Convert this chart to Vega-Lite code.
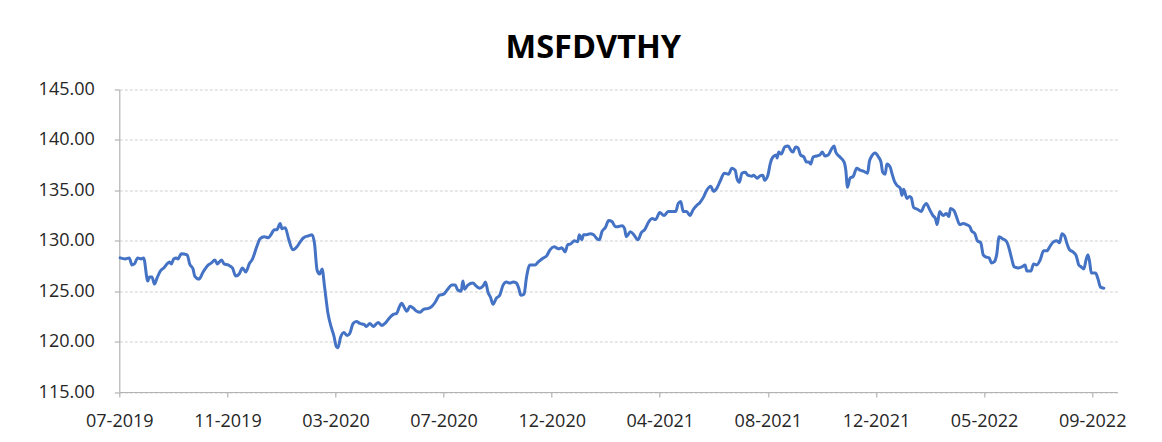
{
  "$schema": "https://vega.github.io/schema/vega-lite/v6.json",
  "width": 998,
  "height": 302.5,
  "autosize": {"type": "none"},
  "padding": {"left": 119.3, "top": 89.5, "right": 44.7, "bottom": 50},
  "background": "white",
  "title": {
    "text": "MSFDVTHY",
    "font": "Open Sans",
    "fontSize": 32.5,
    "fontWeight": "bold",
    "color": "#000000",
    "anchor": "middle",
    "baseline": "alphabetic",
    "offset": 29,
    "dx": -25,
    "dy": 39
  },
  "config": {
    "view": {"stroke": null},
    "axis": {
      "labelFont": "Open Sans",
      "labelFontSize": 18,
      "labelColor": "#262626",
      "domainColor": "#b3b3b3",
      "tickColor": "#b3b3b3",
      "domainWidth": 1.2,
      "tickWidth": 1.2,
      "tickSize": 5,
      "title": null
    }
  },
  "data": {
    "values": [
      {"date":"2019-07-08","value":128.3},{"date":"2019-07-14","value":128.2},{"date":"2019-07-19","value":128.3},{"date":"2019-07-22","value":127.6},{"date":"2019-07-25","value":127.7},{"date":"2019-07-29","value":128.3},{"date":"2019-08-02","value":128.2},{"date":"2019-08-05","value":128.3},{"date":"2019-08-10","value":126.0},{"date":"2019-08-12","value":126.4},{"date":"2019-08-15","value":126.4},{"date":"2019-08-18","value":125.7},{"date":"2019-08-21","value":126.3},{"date":"2019-08-25","value":127.0},{"date":"2019-08-29","value":127.3},{"date":"2019-09-02","value":127.7},{"date":"2019-09-05","value":127.9},{"date":"2019-09-07","value":127.7},{"date":"2019-09-10","value":128.2},{"date":"2019-09-13","value":128.3},{"date":"2019-09-15","value":128.2},{"date":"2019-09-19","value":128.7},{"date":"2019-09-26","value":128.6},{"date":"2019-09-29","value":127.7},{"date":"2019-10-03","value":127.2},{"date":"2019-10-05","value":126.5},{"date":"2019-10-10","value":126.2},{"date":"2019-10-15","value":126.9},{"date":"2019-10-20","value":127.5},{"date":"2019-10-25","value":127.8},{"date":"2019-10-29","value":128.1},{"date":"2019-11-01","value":127.7},{"date":"2019-11-06","value":128.1},{"date":"2019-11-09","value":127.7},{"date":"2019-11-14","value":127.6},{"date":"2019-11-19","value":127.3},{"date":"2019-11-23","value":126.5},{"date":"2019-11-27","value":126.7},{"date":"2019-12-01","value":127.3},{"date":"2019-12-05","value":126.9},{"date":"2019-12-09","value":127.7},{"date":"2019-12-13","value":128.2},{"date":"2019-12-18","value":129.4},{"date":"2019-12-22","value":130.2},{"date":"2019-12-27","value":130.4},
      {"date":"2020-01-01","value":130.3},{"date":"2020-01-04","value":130.6},{"date":"2020-01-08","value":131.1},{"date":"2020-01-11","value":131.1},{"date":"2020-01-15","value":131.7},{"date":"2020-01-17","value":131.2},{"date":"2020-01-21","value":131.3},{"date":"2020-01-25","value":130.2},{"date":"2020-01-30","value":129.1},{"date":"2020-02-04","value":129.4},{"date":"2020-02-08","value":129.9},{"date":"2020-02-12","value":130.3},{"date":"2020-02-18","value":130.5},{"date":"2020-02-22","value":130.6},{"date":"2020-02-25","value":129.7},{"date":"2020-02-28","value":127.1},{"date":"2020-03-02","value":126.7},{"date":"2020-03-05","value":127.2},{"date":"2020-03-08","value":125.4},{"date":"2020-03-12","value":122.8},{"date":"2020-03-16","value":121.4},{"date":"2020-03-19","value":120.6},{"date":"2020-03-22","value":119.5},{"date":"2020-03-24","value":119.4},{"date":"2020-03-27","value":120.4},{"date":"2020-03-31","value":120.9},{"date":"2020-04-04","value":120.6},{"date":"2020-04-07","value":120.8},{"date":"2020-04-11","value":121.8},{"date":"2020-04-15","value":122.0},{"date":"2020-04-19","value":121.8},{"date":"2020-04-24","value":121.7},{"date":"2020-04-27","value":121.5},{"date":"2020-05-01","value":121.8},{"date":"2020-05-05","value":121.5},{"date":"2020-05-11","value":121.9},{"date":"2020-05-15","value":121.6},{"date":"2020-05-19","value":121.8},{"date":"2020-05-24","value":122.3},{"date":"2020-05-29","value":122.7},{"date":"2020-06-02","value":122.8},{"date":"2020-06-05","value":123.4},{"date":"2020-06-08","value":123.8},{"date":"2020-06-11","value":123.4},{"date":"2020-06-14","value":123.0},{"date":"2020-06-18","value":123.5},{"date":"2020-06-22","value":123.3},{"date":"2020-06-26","value":123.0},{"date":"2020-06-30","value":122.9},{"date":"2020-07-04","value":123.2},{"date":"2020-07-10","value":123.3},{"date":"2020-07-14","value":123.5},{"date":"2020-07-18","value":123.9},{"date":"2020-07-23","value":124.6},{"date":"2020-07-28","value":124.7},{"date":"2020-08-01","value":125.1},{"date":"2020-08-07","value":125.6},{"date":"2020-08-11","value":125.6},{"date":"2020-08-14","value":125.1},{"date":"2020-08-18","value":125.0},{"date":"2020-08-20","value":126.0},{"date":"2020-08-22","value":125.2},{"date":"2020-08-26","value":125.6},{"date":"2020-09-01","value":125.8},{"date":"2020-09-05","value":125.5},{"date":"2020-09-09","value":125.3},{"date":"2020-09-13","value":125.5},{"date":"2020-09-16","value":125.9},{"date":"2020-09-19","value":124.9},{"date":"2020-09-22","value":124.4},{"date":"2020-09-25","value":123.7},{"date":"2020-09-29","value":124.3},{"date":"2020-10-03","value":124.6},{"date":"2020-10-07","value":125.6},{"date":"2020-10-11","value":125.9},{"date":"2020-10-15","value":125.8},{"date":"2020-10-19","value":125.9},{"date":"2020-10-23","value":125.8},{"date":"2020-10-26","value":125.2},{"date":"2020-10-28","value":124.6},{"date":"2020-11-01","value":124.7},{"date":"2020-11-04","value":126.4},{"date":"2020-11-08","value":127.6},{"date":"2020-11-14","value":127.6},{"date":"2020-11-18","value":127.9},{"date":"2020-11-24","value":128.3},{"date":"2020-11-28","value":128.5},{"date":"2020-12-02","value":129.1},{"date":"2020-12-07","value":129.4},{"date":"2020-12-12","value":129.2},{"date":"2020-12-16","value":129.3},{"date":"2020-12-20","value":128.9},{"date":"2020-12-23","value":129.6},{"date":"2020-12-27","value":129.7},{"date":"2020-12-31","value":130.0},
      {"date":"2021-01-04","value":129.9},{"date":"2021-01-06","value":130.6},{"date":"2021-01-09","value":130.1},{"date":"2021-01-11","value":130.6},{"date":"2021-01-15","value":130.6},{"date":"2021-01-19","value":130.7},{"date":"2021-01-23","value":130.6},{"date":"2021-01-27","value":130.2},{"date":"2021-01-30","value":130.1},{"date":"2021-02-02","value":130.9},{"date":"2021-02-06","value":131.3},{"date":"2021-02-10","value":132.0},{"date":"2021-02-14","value":131.9},{"date":"2021-02-18","value":131.4},{"date":"2021-02-21","value":131.4},{"date":"2021-02-26","value":131.5},{"date":"2021-03-01","value":131.2},{"date":"2021-03-03","value":130.4},{"date":"2021-03-08","value":130.9},{"date":"2021-03-12","value":130.6},{"date":"2021-03-17","value":130.1},{"date":"2021-03-21","value":130.8},{"date":"2021-03-25","value":131.1},{"date":"2021-03-30","value":131.9},{"date":"2021-04-03","value":132.2},{"date":"2021-04-07","value":132.1},{"date":"2021-04-12","value":132.8},{"date":"2021-04-17","value":132.5},{"date":"2021-04-22","value":132.9},{"date":"2021-04-28","value":132.9},{"date":"2021-05-01","value":132.9},{"date":"2021-05-04","value":133.7},{"date":"2021-05-07","value":133.9},{"date":"2021-05-10","value":132.9},{"date":"2021-05-14","value":132.9},{"date":"2021-05-18","value":132.5},{"date":"2021-05-22","value":133.1},{"date":"2021-05-26","value":133.5},{"date":"2021-05-30","value":133.8},{"date":"2021-06-03","value":134.3},{"date":"2021-06-07","value":135.0},{"date":"2021-06-12","value":135.4},{"date":"2021-06-15","value":134.9},{"date":"2021-06-19","value":135.2},{"date":"2021-06-23","value":135.9},{"date":"2021-06-28","value":136.7},{"date":"2021-07-03","value":136.6},{"date":"2021-07-07","value":137.2},{"date":"2021-07-11","value":137.0},{"date":"2021-07-13","value":136.2},{"date":"2021-07-16","value":135.8},{"date":"2021-07-19","value":136.7},{"date":"2021-07-23","value":136.8},{"date":"2021-07-26","value":136.5},{"date":"2021-07-31","value":136.4},{"date":"2021-08-02","value":136.5},{"date":"2021-08-06","value":136.2},{"date":"2021-08-09","value":136.4},{"date":"2021-08-13","value":136.5},{"date":"2021-08-15","value":136.0},{"date":"2021-08-19","value":136.5},{"date":"2021-08-22","value":137.7},{"date":"2021-08-25","value":138.3},{"date":"2021-08-29","value":138.5},{"date":"2021-08-30","value":138.2},{"date":"2021-09-01","value":138.8},{"date":"2021-09-04","value":138.6},{"date":"2021-09-08","value":139.3},{"date":"2021-09-12","value":139.4},{"date":"2021-09-16","value":138.9},{"date":"2021-09-18","value":138.8},{"date":"2021-09-21","value":139.3},{"date":"2021-09-24","value":139.2},{"date":"2021-09-27","value":138.5},{"date":"2021-10-01","value":138.3},{"date":"2021-10-04","value":137.8},{"date":"2021-10-07","value":137.8},{"date":"2021-10-09","value":137.6},{"date":"2021-10-12","value":138.3},{"date":"2021-10-16","value":138.4},{"date":"2021-10-20","value":138.5},{"date":"2021-10-23","value":138.8},{"date":"2021-10-26","value":138.4},{"date":"2021-10-30","value":138.5},{"date":"2021-11-03","value":139.1},{"date":"2021-11-06","value":139.4},{"date":"2021-11-08","value":138.8},{"date":"2021-11-13","value":138.3},{"date":"2021-11-18","value":137.8},{"date":"2021-11-20","value":137.0},{"date":"2021-11-22","value":135.3},{"date":"2021-11-25","value":136.2},{"date":"2021-11-29","value":136.4},{"date":"2021-12-03","value":137.2},{"date":"2021-12-07","value":137.0},{"date":"2021-12-11","value":136.9},{"date":"2021-12-16","value":136.7},{"date":"2021-12-18","value":137.8},{"date":"2021-12-21","value":138.4},{"date":"2021-12-25","value":138.7},{"date":"2021-12-29","value":138.3},
      {"date":"2022-01-01","value":137.8},{"date":"2022-01-03","value":136.8},{"date":"2022-01-06","value":136.6},{"date":"2022-01-08","value":137.6},{"date":"2022-01-12","value":137.3},{"date":"2022-01-14","value":136.7},{"date":"2022-01-17","value":135.9},{"date":"2022-01-20","value":135.5},{"date":"2022-01-24","value":135.2},{"date":"2022-01-26","value":134.5},{"date":"2022-01-28","value":135.1},{"date":"2022-02-01","value":134.2},{"date":"2022-02-04","value":134.4},{"date":"2022-02-06","value":134.3},{"date":"2022-02-09","value":133.3},{"date":"2022-02-14","value":133.1},{"date":"2022-02-18","value":132.9},{"date":"2022-02-21","value":133.4},{"date":"2022-02-24","value":133.7},{"date":"2022-02-28","value":133.1},{"date":"2022-03-04","value":132.5},{"date":"2022-03-07","value":132.2},{"date":"2022-03-09","value":131.6},{"date":"2022-03-12","value":132.9},{"date":"2022-03-16","value":132.5},{"date":"2022-03-20","value":132.7},{"date":"2022-03-23","value":132.4},{"date":"2022-03-25","value":133.2},{"date":"2022-03-29","value":133.0},{"date":"2022-04-01","value":132.4},{"date":"2022-04-05","value":131.6},{"date":"2022-04-09","value":131.7},{"date":"2022-04-13","value":131.6},{"date":"2022-04-17","value":131.4},{"date":"2022-04-19","value":131.0},{"date":"2022-04-23","value":130.7},{"date":"2022-04-26","value":130.0},{"date":"2022-04-30","value":129.8},{"date":"2022-05-03","value":128.6},{"date":"2022-05-06","value":128.4},{"date":"2022-05-10","value":128.3},{"date":"2022-05-13","value":127.8},{"date":"2022-05-16","value":127.9},{"date":"2022-05-19","value":128.6},{"date":"2022-05-22","value":130.4},{"date":"2022-05-26","value":130.2},{"date":"2022-05-31","value":129.9},{"date":"2022-06-03","value":129.2},{"date":"2022-06-06","value":128.2},{"date":"2022-06-09","value":127.4},{"date":"2022-06-14","value":127.3},{"date":"2022-06-18","value":127.4},{"date":"2022-06-22","value":127.6},{"date":"2022-06-24","value":127.0},{"date":"2022-06-29","value":127.0},{"date":"2022-07-02","value":127.7},{"date":"2022-07-06","value":127.6},{"date":"2022-07-10","value":128.1},{"date":"2022-07-14","value":129.0},{"date":"2022-07-18","value":129.0},{"date":"2022-07-22","value":129.5},{"date":"2022-07-26","value":129.9},{"date":"2022-07-30","value":130.0},{"date":"2022-08-02","value":129.8},{"date":"2022-08-05","value":130.7},{"date":"2022-08-08","value":130.5},{"date":"2022-08-11","value":129.7},{"date":"2022-08-14","value":129.1},{"date":"2022-08-18","value":128.9},{"date":"2022-08-22","value":128.5},{"date":"2022-08-25","value":127.6},{"date":"2022-08-28","value":127.4},{"date":"2022-08-31","value":127.2},{"date":"2022-09-03","value":128.2},{"date":"2022-09-05","value":128.6},{"date":"2022-09-07","value":127.9},{"date":"2022-09-09","value":126.8},{"date":"2022-09-12","value":126.8},{"date":"2022-09-14","value":126.8},{"date":"2022-09-17","value":126.2},{"date":"2022-09-20","value":125.4},{"date":"2022-09-24","value":125.3}
    ]
  },
  "mark": {"type": "line", "color": "#4472C4", "strokeWidth": 3, "strokeJoin": "round", "strokeCap": "round", "interpolate": "monotone"},
  "encoding": {
    "x": {
      "field": "date",
      "type": "temporal",
      "scale": {
        "type": "utc",
        "domain": [
          {"year": 2019, "month": 7, "date": 7, "utc": true},
          {"year": 2022, "month": 10, "date": 10, "utc": true}
        ]
      },
      "axis": {
        "values": [
          {"year": 2019, "month": 7, "date": 7, "utc": true},
          {"year": 2019, "month": 11, "date": 13, "utc": true},
          {"year": 2020, "month": 3, "date": 21, "utc": true},
          {"year": 2020, "month": 7, "date": 28, "utc": true},
          {"year": 2020, "month": 12, "date": 4, "utc": true},
          {"year": 2021, "month": 4, "date": 12, "utc": true},
          {"year": 2021, "month": 8, "date": 19, "utc": true},
          {"year": 2021, "month": 12, "date": 26, "utc": true},
          {"year": 2022, "month": 5, "date": 4, "utc": true},
          {"year": 2022, "month": 9, "date": 10, "utc": true}
        ],
        "labelExpr": "utcFormat(datum.value, '%m-%Y')",
        "grid": false,
        "labelPadding": 15,
        "labelFlush": false,
        "labelOverlap": false,
        "labelBound": false
      }
    },
    "y": {
      "field": "value",
      "type": "quantitative",
      "scale": {"domain": [115, 145], "nice": false, "zero": false},
      "axis": {
        "values": [115, 120, 125, 130, 135, 140, 145],
        "format": ".2f",
        "grid": true,
        "gridColor": "#d0d0d0",
        "gridDash": [3, 2],
        "gridWidth": 1,
        "labelPadding": 20
      }
    }
  }
}
